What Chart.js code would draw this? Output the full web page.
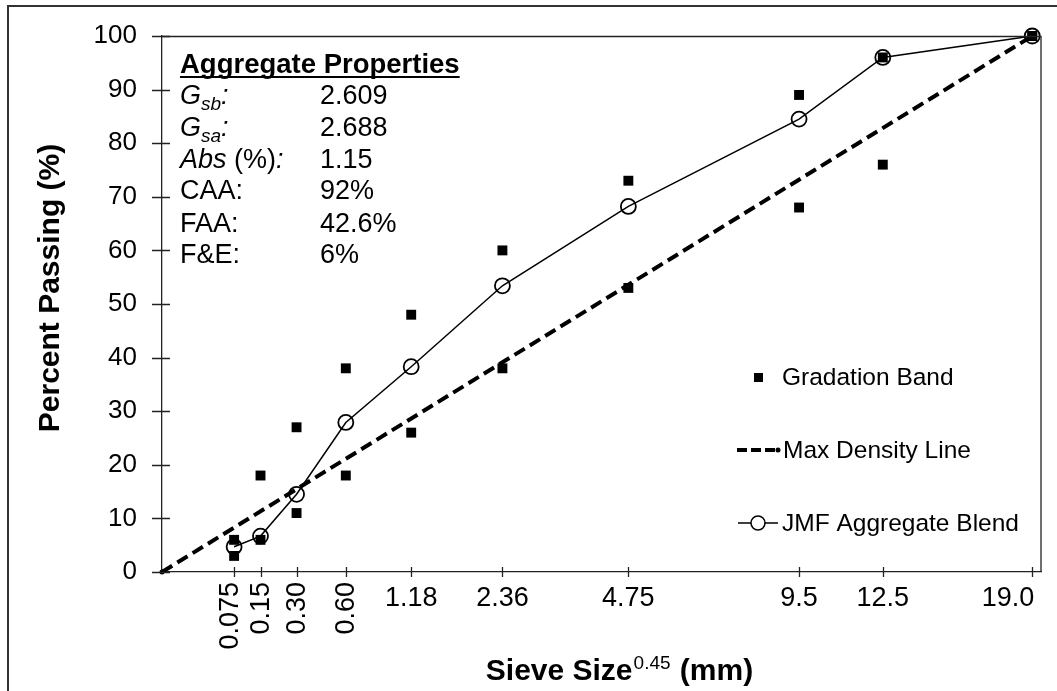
<!DOCTYPE html>
<html>
<head>
<meta charset="utf-8">
<script src="https://cdn.jsdelivr.net/npm/chart.js@4.4.1/dist/chart.umd.min.js"></script>
<style>
  html, body { margin: 0; padding: 0; background: #fff; }
  #wrap { width: 1057px; height: 691px; position: relative; }
</style>
</head>
<body>
<div id="wrap"><canvas id="c" width="1057" height="691"></canvas></div>
<script>
// ---- data ----
const sieveSizes = [0.075, 0.15, 0.30, 0.60, 1.18, 2.36, 4.75, 9.5, 12.5, 19.0];
const tickLabels = ['0.075', '0.15', '0.30', '0.60', '1.18', '2.36', '4.75', '9.5', '12.5', '19.0'];
const rotatedLabels = ['0.075', '0.15', '0.30', '0.60'];
const bandUpper = [6, 18, 27, 38, 48, 60, 73, 89, 96, 100];
const bandLower = [3, 6, 11, 18, 26, 38, 53, 68, 76, 100];
const jmfBlend = [4.7, 6.7, 14.5, 27.9, 38.3, 53.4, 68.2, 84.5, 96.0, 100];
const maxDensitySizes = [0, 19.0];
const maxDensityPassing = [0, 100];
const yTickValues = [0, 10, 20, 30, 40, 50, 60, 70, 80, 90, 100];
const exponent = 0.45;
const propLabels = ['Gsb', 'Gsa', 'Abs', 'CAA:', 'FAA:', 'F&E:'];
const propValues = ['2.609', '2.688', '1.15', '92%', '42.6%', '6%'];
const seriesNames = ['Gradation Band', 'Max Density Line', 'JMF Aggregate Blend'];

const FONT = '"Liberation Sans", Arial, Helvetica, sans-serif';
const px = s => Math.pow(s, exponent);

const bandPoints = [];
sieveSizes.forEach((s, i) => {
  bandPoints.push({ x: px(s), y: bandUpper[i] });
  bandPoints.push({ x: px(s), y: bandLower[i] });
});
const jmfPoints = sieveSizes.map((s, i) => ({ x: px(s), y: jmfBlend[i] }));
const mdPoints = maxDensitySizes.map((s, i) => ({ x: px(s), y: maxDensityPassing[i] }));

const decor = {
  id: 'decor',
  beforeDraw(chart) {
    const ctx = chart.ctx;
    ctx.save();
    ctx.fillStyle = '#fff';
    ctx.fillRect(0, 0, chart.width, chart.height);
    ctx.strokeStyle = '#333';
    ctx.lineWidth = 2;
    ctx.strokeRect(8, 6, 1200, 1000);
    ctx.restore();
  },
  afterDraw(chart) {
    const ctx = chart.ctx;
    const xs = chart.scales.x, ys = chart.scales.y;
    const a = chart.chartArea;
    ctx.save();
    ctx.strokeStyle = '#222';
    ctx.lineWidth = 1.3;
    ctx.beginPath();
    ctx.moveTo(a.left, a.top + 0.5); ctx.lineTo(a.right, a.top + 0.5);
    ctx.lineTo(a.right, a.bottom);
    ctx.stroke();
    ctx.beginPath();
    yTickValues.forEach(v => {
      const y = Math.round(ys.getPixelForValue(v)) + 0.5;
      ctx.moveTo(a.left - 10, y); ctx.lineTo(a.left + 8, y);
    });
    sieveSizes.forEach(s => {
      const x = Math.round(xs.getPixelForValue(px(s))) + 0.5;
      ctx.moveTo(x, a.bottom - 5); ctx.lineTo(x, a.bottom + 5);
    });
    ctx.stroke();

    // x tick labels
    ctx.fillStyle = '#000';
    ctx.font = '27px ' + FONT;
    sieveSizes.forEach((s, i) => {
      const x = xs.getPixelForValue(px(s));
      const lab = tickLabels[i];
      if (rotatedLabels.includes(lab)) {
        ctx.save();
        ctx.translate(x - (i === 0 ? 5 : 0), a.bottom + 10);
        ctx.rotate(-Math.PI / 2);
        ctx.textAlign = 'right';
        ctx.textBaseline = 'middle';
        ctx.fillText(lab, 0, 1);
        ctx.restore();
      } else {
        ctx.textAlign = (i === sieveSizes.length - 1) ? 'right' : 'center';
        ctx.textBaseline = 'alphabetic';
        ctx.fillText(lab, x + (i === sieveSizes.length - 1 ? 2 : 0), a.bottom + 34);
      }
    });

    // y title
    ctx.save();
    ctx.translate(59, (a.top + a.bottom) / 2 - 16);
    ctx.rotate(-Math.PI / 2);
    ctx.font = 'bold 30px ' + FONT;
    ctx.textAlign = 'center';
    ctx.textBaseline = 'alphabetic';
    ctx.fillText('Percent Passing (%)', 0, 0);
    ctx.restore();

    // x title with superscript
    {
      const f1 = 'bold 30px ' + FONT, f2 = '19px ' + FONT;
      ctx.font = f1; const w1 = ctx.measureText('Sieve Size').width;
      const w3 = ctx.measureText(' (mm)').width;
      ctx.font = f2; const w2 = ctx.measureText('0.45').width;
      const total = w1 + w2 + w3 + 2;
      let x0 = (a.left + a.right) / 2 + 18 - total / 2;
      const base = 680;
      ctx.textAlign = 'left'; ctx.textBaseline = 'alphabetic';
      ctx.font = f1; ctx.fillText('Sieve Size', x0, base);
      ctx.font = f2; ctx.fillText('0.45', x0 + w1 + 1, base - 11);
      ctx.font = f1; ctx.fillText(' (mm)', x0 + w1 + w2 + 2, base);
    }

    // Aggregate properties block
    {
      const lx = 180, vx = 320;
      ctx.textAlign = 'left'; ctx.textBaseline = 'alphabetic';
      ctx.font = 'bold 27.5px ' + FONT;
      const title = 'Aggregate Properties';
      ctx.fillText(title, lx, 73);
      const tw = ctx.measureText(title).width;
      ctx.fillRect(lx, 76, tw, 2);
      const rowBase = [104, 136, 168, 199, 232, 263];
      const it = 'italic 27px ' + FONT, rg = '27px ' + FONT, sub = 'italic 19px ' + FONT;
      propLabels.forEach((lab, i) => {
        const b = rowBase[i];
        let x = lx;
        if (lab === 'Gsb' || lab === 'Gsa') {
          ctx.font = it; ctx.fillText('G', x, b); x += ctx.measureText('G').width;
          ctx.font = sub; ctx.fillText(lab.slice(1), x, b + 6); x += ctx.measureText(lab.slice(1)).width;
          ctx.font = it; ctx.fillText(':', x, b);
        } else if (lab === 'Abs') {
          ctx.font = it; ctx.fillText('Abs', x, b); x += ctx.measureText('Abs').width;
          ctx.font = rg; ctx.fillText(' (%)', x, b); x += ctx.measureText(' (%)').width;
          ctx.font = it; ctx.fillText(':', x, b);
        } else {
          ctx.font = rg; ctx.fillText(lab, x, b);
        }
        ctx.font = rg; ctx.fillText(propValues[i], vx, b);
      });
    }

    // legend
    {
      ctx.font = '24.5px ' + FONT;
      ctx.textAlign = 'left'; ctx.textBaseline = 'middle';
      ctx.fillStyle = '#000';
      ctx.fillRect(754, 373, 9, 9);
      ctx.fillText(seriesNames[0], 782, 378);
      ctx.save();
      ctx.strokeStyle = '#000'; ctx.lineWidth = 4;
      ctx.setLineDash([10, 4]);
      ctx.beginPath(); ctx.moveTo(737, 450); ctx.lineTo(775, 450); ctx.stroke();
      ctx.restore();
      ctx.beginPath(); ctx.arc(778, 450, 2.5, 0, Math.PI * 2); ctx.fill();
      ctx.fillText(seriesNames[1], 783, 451);
      ctx.strokeStyle = '#000'; ctx.lineWidth = 1.5;
      ctx.beginPath(); ctx.moveTo(738, 523); ctx.lineTo(751, 523);
      ctx.moveTo(765, 523); ctx.lineTo(778, 523); ctx.stroke();
      ctx.beginPath(); ctx.arc(758, 523, 7, 0, Math.PI * 2); ctx.stroke();
      ctx.fillText(seriesNames[2], 782, 524);
    }
    ctx.restore();
  }
};

new Chart(document.getElementById('c'), {
  type: 'scatter',
  data: {
    datasets: [
      {
        label: seriesNames[0],
        data: bandPoints,
        pointStyle: 'rect',
        pointRadius: 7,
        pointBackgroundColor: '#000',
        pointBorderColor: '#000',
        pointBorderWidth: 0,
        showLine: false,
        clip: false
      },
      {
        label: seriesNames[2],
        data: jmfPoints,
        showLine: true,
        borderColor: '#000',
        borderWidth: 1.5,
        pointStyle: 'circle',
        pointRadius: 7.5,
        pointBorderWidth: 1.8,
        pointBorderColor: '#000',
        pointBackgroundColor: 'rgba(0,0,0,0)',
        clip: false
      },
      {
        label: seriesNames[1],
        data: mdPoints,
        showLine: true,
        borderColor: '#000',
        borderWidth: 4,
        borderDash: [12, 6],
        pointRadius: 2.5,
        pointBackgroundColor: '#000',
        pointBorderWidth: 0,
        clip: false
      }
    ]
  },
  options: {
    responsive: false,
    animation: false,
    events: [],
    layout: { padding: { top: 36, right: 16, left: 0, bottom: 0 } },
    plugins: { legend: { display: false }, tooltip: { enabled: false }, title: { display: false } },
    scales: {
      x: {
        type: 'linear', min: 0, max: 3.8,
        grid: { display: false, drawTicks: false },
        border: { display: true, color: '#222', width: 1.3 },
        ticks: { display: false },
        afterFit(scale) { scale.height = 119; scale.paddingLeft = 0; scale.paddingRight = 0; }
      },
      y: {
        type: 'linear', min: 0, max: 100,
        grid: { display: false, drawTicks: false },
        border: { display: true, color: '#222', width: 1.3 },
        ticks: {
          stepSize: 10, padding: 25, color: '#000',
          font: { family: FONT, size: 26 }
        },
        afterFit(scale) { scale.width = 162; scale.paddingTop = 0; scale.paddingBottom = 0; }
      }
    }
  },
  plugins: [decor]
});
</script>
</body>
</html>
